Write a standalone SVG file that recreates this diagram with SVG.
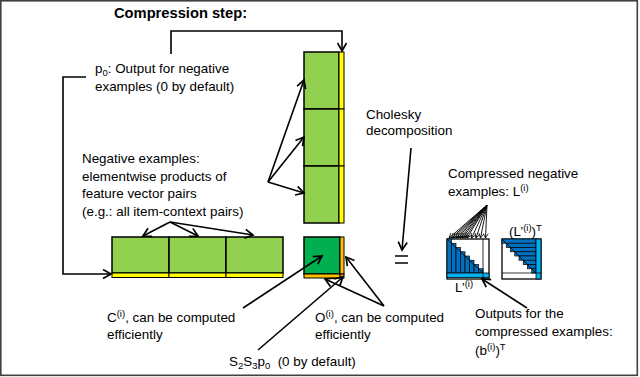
<svg xmlns="http://www.w3.org/2000/svg" width="640" height="377" viewBox="0 0 640 377">
<defs>
<marker id="ah" markerWidth="11" markerHeight="11" refX="9" refY="5.5" orient="auto" markerUnits="userSpaceOnUse">
<path d="M1,1 L9,5.5 L1,10" fill="none" stroke="#000" stroke-width="1.7"/>
</marker>
<marker id="ahs" markerWidth="6" markerHeight="6" refX="5" refY="3" orient="auto" markerUnits="userSpaceOnUse">
<path d="M0.5,0.5 L5,3 L0.5,5.5" fill="none" stroke="#000" stroke-width="0.8"/>
</marker>
<style>
text{font-family:"Liberation Sans",Arial,sans-serif;font-size:13.4px;fill:#000}
.title{font-weight:bold;font-size:14.7px}
.sup{font-size:9.5px}
.lg{fill:#92d050;stroke:#000;stroke-width:1.5}
.dg{fill:#00b050;stroke:#000;stroke-width:1.5}
.ye{fill:#ffff00;stroke:#000;stroke-width:1}
.or{fill:#ffc000;stroke:#000;stroke-width:1}
.conn{fill:none;stroke:#000;stroke-width:1.6;marker-end:url(#ah)}
.fan{fill:none;stroke:#000;stroke-width:0.9;marker-end:url(#ahs)}
.blue{fill:#0070c0;stroke:#000;stroke-width:0.7}
.lblue{fill:#00b0f0;stroke:#000;stroke-width:0.8}
</style>
</defs>
<rect x="0" y="0" width="640" height="377" fill="#fff"/>
<rect x="0.8" y="0.8" width="636.5" height="374.5" fill="none" stroke="#404040" stroke-width="1.6"/>

<text class="title" x="114" y="18">Compression step:</text>

<g id="vertical-bar">
<rect class="lg" x="304" y="52" width="35" height="57"/>
<rect class="lg" x="304" y="109" width="35" height="57"/>
<rect class="lg" x="304" y="166" width="35" height="57"/>
<rect class="ye" x="339" y="52" width="5" height="57"/>
<rect class="ye" x="339" y="109" width="5" height="57"/>
<rect class="ye" x="339" y="166" width="5" height="57"/>
</g>

<g id="horizontal-bar">
<rect class="lg" x="112" y="237" width="57" height="36"/>
<rect class="lg" x="169" y="237" width="57" height="36"/>
<rect class="lg" x="226" y="237" width="57" height="36"/>
<rect class="ye" x="112" y="273" width="57" height="4.5"/>
<rect class="ye" x="169" y="273" width="57" height="4.5"/>
<rect class="ye" x="226" y="273" width="57" height="4.5"/>
</g>

<g id="small-square">
<rect class="dg" x="304" y="237" width="36" height="37"/>
<rect class="or" x="340" y="237" width="4" height="37"/>
<rect class="or" x="304" y="274" width="36" height="4"/>
<rect x="340" y="274" width="4" height="4" fill="#e09000" stroke="#000" stroke-width="1"/>
</g>

<g id="p0-label">
<text x="95" y="73">p<tspan class="sup" dy="3">0</tspan><tspan dy="-3">: Output for negative</tspan></text>
<text x="95" y="91">examples (0 by default)</text>
</g>

<g id="neg-label">
<text x="82" y="163">Negative examples:</text>
<text x="82" y="181">elementwise products of</text>
<text x="82" y="198">feature vector pairs</text>
<text x="82" y="216">(e.g.: all item-context pairs)</text>
</g>

<g id="c-label">
<text x="107" y="322">C<tspan class="sup" dy="-5">(i)</tspan><tspan dy="5">, can be computed</tspan></text>
<text x="107" y="339">efficiently</text>
</g>

<g id="o-label">
<text x="315" y="322">O<tspan class="sup" dy="-5">(i)</tspan><tspan dy="5">, can be computed</tspan></text>
<text x="315" y="339">efficiently</text>
</g>

<g id="s-label">
<text x="229" y="366">S<tspan class="sup" dy="3">2</tspan><tspan dy="-3">S</tspan><tspan class="sup" dy="3">3</tspan><tspan dy="-3">p</tspan><tspan class="sup" dy="3">0</tspan><tspan dy="-3" xml:space="preserve">  (0 by default)</tspan></text>
</g>

<g id="cholesky-label">
<text x="366" y="119">Cholesky</text>
<text x="366" y="135">decomposition</text>
</g>

<g id="equals">
<line x1="395" y1="256" x2="408" y2="256" stroke="#000" stroke-width="1.5"/>
<line x1="395" y1="263" x2="408" y2="263" stroke="#000" stroke-width="1.5"/>
</g>

<g id="compressed-label">
<text x="448" y="178">Compressed negative</text>
<text x="448" y="196">examples: L<tspan class="sup" dy="-5">(i)</tspan></text>
</g>

<g id="L-matrix">
<rect x="447" y="239" width="42" height="40" fill="#fff" stroke="#000" stroke-width="1.3"/>
<rect class="blue" x="447" y="239" width="4.5" height="34"/>
<rect class="blue" x="451.5" y="243.25" width="4.5" height="29.75"/>
<rect class="blue" x="456" y="247.5" width="4.5" height="25.5"/>
<rect class="blue" x="460.5" y="251.75" width="4.5" height="21.25"/>
<rect class="blue" x="465" y="256" width="4.5" height="17"/>
<rect class="blue" x="469.5" y="260.25" width="4.5" height="12.75"/>
<rect class="blue" x="474" y="264.5" width="4.5" height="8.5"/>
<rect class="blue" x="478.5" y="268.75" width="4.5" height="4.25"/>
<line x1="447" y1="239" x2="483" y2="273" stroke="#000" stroke-width="0.8"/>
<rect class="lblue" x="447" y="273" width="42" height="4.5"/>
<line x1="483" y1="239" x2="483" y2="279" stroke="#000" stroke-width="0.8"/>
<text x="455" y="292">L’<tspan class="sup" dy="-5">(i)</tspan></text>
</g>

<g id="LT-matrix">
<rect x="502" y="239" width="39" height="40" fill="#fff" stroke="#000" stroke-width="1.3"/>
<rect class="blue" x="502" y="239" width="34" height="4.25"/>
<rect class="blue" x="506.25" y="243.25" width="29.75" height="4.25"/>
<rect class="blue" x="510.5" y="247.5" width="25.5" height="4.25"/>
<rect class="blue" x="514.75" y="251.75" width="21.25" height="4.25"/>
<rect class="blue" x="519" y="256" width="17" height="4.25"/>
<rect class="blue" x="523.25" y="260.25" width="12.75" height="4.25"/>
<rect class="blue" x="527.5" y="264.5" width="8.5" height="4.25"/>
<rect class="blue" x="531.75" y="268.75" width="4.25" height="4.25"/>
<line x1="502" y1="239" x2="536" y2="273" stroke="#000" stroke-width="0.8"/>
<rect class="lblue" x="536" y="239" width="5" height="40"/>
<line x1="502" y1="273" x2="541" y2="273" stroke="#000" stroke-width="0.8"/>
<text x="509" y="236">(L’<tspan class="sup" dy="-5">(i)</tspan><tspan dy="5">)</tspan><tspan class="sup" dy="-5">T</tspan></text>
</g>

<g id="outputs-label">
<text x="475" y="318">Outputs for the</text>
<text x="475" y="336">compressed examples:</text>
<text x="475" y="355">(b<tspan class="sup" dy="-5">(i)</tspan><tspan dy="5">)</tspan><tspan class="sup" dy="-5">T</tspan></text>
</g>

<g id="connectors">
<path class="conn" d="M171,54 V31 H342 V51"/>
<path class="conn" d="M86,77 H63 V274 H111"/>
<path class="conn" d="M268,182 L304,80"/>
<path class="conn" d="M268,182 L304,137"/>
<path class="conn" d="M268,182 L304,193"/>
<path class="conn" d="M170,222 L143,236"/>
<path class="conn" d="M170,222 L198,236"/>
<path class="conn" d="M170,222 L253,235"/>
<path class="conn" d="M243,308 L322,256"/>
<path class="conn" d="M384,306 L346,257"/>
<path class="conn" d="M384,306 L325,279"/>
<path class="conn" d="M258,350 L343,277"/>
<path class="conn" d="M411,148 L402,250"/>
<path class="conn" d="M527,308 L482,279"/>
<path class="fan" d="M487,205 L449,238"/>
<path class="fan" d="M487,205 L451.5,238"/>
<path class="fan" d="M487,205 L453.5,238"/>
<path class="fan" d="M487,205 L456,238"/>
<path class="fan" d="M487,205 L458,238"/>
<path class="fan" d="M487,205 L460.5,238"/>
<path class="fan" d="M487,205 L462.5,238"/>
<path class="fan" d="M487,205 L465,238"/>
<path class="fan" d="M487,205 L467,238"/>
<path class="fan" d="M487,205 L471.5,238"/>
<path class="fan" d="M487,205 L476,238"/>
<path class="fan" d="M487,205 L480.5,238"/>
<path class="fan" d="M487,205 L485.5,238"/>
</g>
</svg>
